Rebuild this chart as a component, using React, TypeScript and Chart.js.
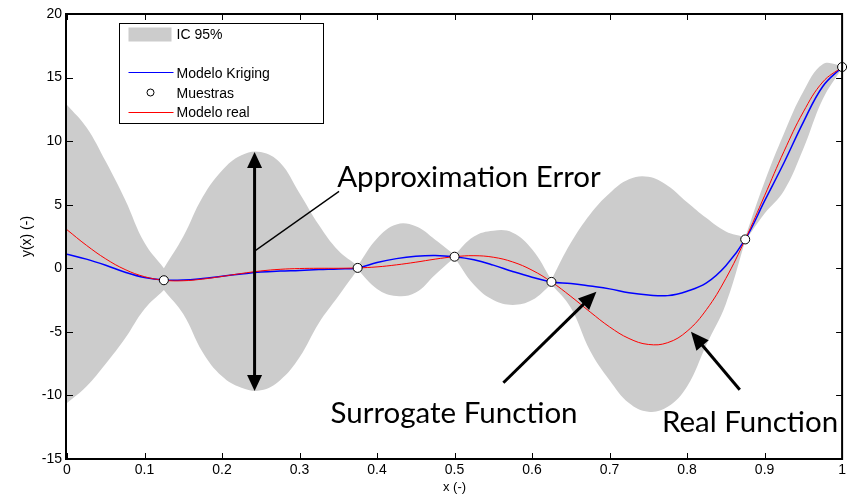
import React, { useEffect, useRef } from "react";
import { Chart, registerables } from "chart.js";

Chart.register(...registerables);

// ---------- data ----------
const xGrid = [
  0, 0.025, 0.05, 0.075, 0.1, 0.125, 0.15, 0.175, 0.2, 0.225,
  0.25, 0.275, 0.3, 0.325, 0.35, 0.375, 0.4, 0.425, 0.45, 0.475,
  0.5, 0.525, 0.55, 0.575, 0.6, 0.625, 0.65, 0.675, 0.7, 0.725,
  0.75, 0.775, 0.8, 0.825, 0.85, 0.875, 0.9, 0.925, 0.95, 0.975, 1,
];

const realModel = [
  3.03, 1.81, 0.74, -0.1, -0.66, -0.94, -0.98, -0.85, -0.64, -0.41,
  -0.21, -0.08, -0.02, 0.0, 0.0, 0.03, 0.11, 0.27, 0.48, 0.72,
  0.91, 0.99, 0.87, 0.5, -0.15, -1.07, -2.21, -3.44, -4.61, -5.52,
  -5.99, -5.85, -4.95, -3.25, -0.8, 2.27, 5.71, 9.19, 12.3, 14.65, 15.83,
];

const krigingModel = [
  1.1, 0.72, 0.24, -0.31, -0.73, -0.93, -0.93, -0.8, -0.62, -0.45,
  -0.3, -0.22, -0.17, -0.1, -0.05, 0.03, 0.45, 0.76, 0.95, 1.01,
  0.91, 0.67, 0.25, -0.25, -0.7, -1.07, -1.2, -1.4, -1.62, -1.92,
  -2.1, -2.15, -1.8, -1.15, 0.2, 2.27, 5.3, 8.3, 11.5, 14.3, 15.83,
];

// confidence band (sample locations listed twice so the band pinches sharply)
const bandX = [
  0, 0.025, 0.05, 0.075, 0.1, 0.125, 0.125, 0.15, 0.175, 0.2,
  0.225, 0.25, 0.275, 0.3, 0.325, 0.35, 0.375, 0.375, 0.4, 0.425,
  0.45, 0.475, 0.5, 0.5, 0.525, 0.55, 0.575, 0.6, 0.625, 0.625,
  0.65, 0.675, 0.7, 0.725, 0.75, 0.775, 0.8, 0.825, 0.85, 0.875,
  0.875, 0.9, 0.925, 0.95, 0.975, 1,
];

const ciUpper = [
  12.85, 11.1, 8.4, 5.4, 2.0, 0.0, 0.0, 2.5, 5.6, 7.7,
  8.9, 9.15, 8.3, 5.9, 3.4, 1.4, 0.2, 0.2, 2.35, 3.45,
  3.3, 2.25, 1.05, 1.05, 2.5, 2.96, 2.8, 1.5, -0.9, -0.9,
  2.0, 4.25, 5.9, 7.0, 7.2, 6.5, 5.2, 3.95, 2.9, 2.45,
  2.45, 6.8, 10.6, 13.9, 16.05, 15.95,
];

const ciLower = [
  -10.6, -9.3, -7.5, -5.5, -3.2, -1.7, -1.7, -3.6, -6.6, -8.5,
  -9.4, -9.6, -8.8, -7.0, -4.3, -2.2, -0.1, -0.1, -1.62, -2.18,
  -1.9, -0.5, 0.85, 0.85, -1.3, -2.5, -2.88, -2.5, -1.25, -1.25,
  -3.1, -6.5, -8.8, -10.6, -11.28, -10.9, -9.3, -6.0, -2.8, 2.15,
  2.15, 4.3, 6.1, 9.4, 13.3, 15.75,
];

const sampleX = [0.125, 0.375, 0.5, 0.625, 0.875, 1];
const sampleY = [-0.94, 0.03, 0.91, -1.07, 2.27, 15.83];

const xTicks = [0, 0.1, 0.2, 0.3, 0.4, 0.5, 0.6, 0.7, 0.8, 0.9, 1];
const xTickLabels = ["0", "0.1", "0.2", "0.3", "0.4", "0.5", "0.6", "0.7", "0.8", "0.9", "1"];
const yTicks = [-15, -10, -5, 0, 5, 10, 15, 20];
const yTickLabels = ["-15", "-10", "-5", "0", "5", "10", "15", "20"];

const legendLabels = ["IC 95%", "Modelo Kriging", "Muestras", "Modelo real"];

// annotations in data units
const annotationTexts = [
  { text: "Approximation Error", x: 0.3486, y: 6.37 },
  { text: "Surrogate Function", x: 0.34, y: -12.2 },
  { text: "Real Function", x: 0.7675, y: -12.86 },
];
const errorArrow = { x: 0.242, yTop: 9.15, yBottom: -9.65 };
const leaderLine = { x1: 0.242, y1: 1.35, x2: 0.351, y2: 6.05 };
const pointerArrows = [
  { x1: 0.563, y1: -9.0, x2: 0.683, y2: -1.84 },
  { x1: 0.868, y1: -9.55, x2: 0.805, y2: -4.99 },
];

// ---------- styles ----------
const FONT = '"Liberation Sans", Arial, sans-serif';
const BAND = "#cccccc";
const BLUE = "#0000ff";
const RED = "#ff0000";

function toXY(xs: number[], ys: number[]) {
  return xs.map((x, i) => ({ x, y: ys[i] }));
}

function drawHead(ctx: CanvasRenderingContext2D, tx: number, ty: number, ang: number, len: number, half: number) {
  const bx = tx - Math.cos(ang) * len;
  const by = ty - Math.sin(ang) * len;
  const nx = -Math.sin(ang) * half;
  const ny = Math.cos(ang) * half;
  ctx.beginPath();
  ctx.moveTo(tx, ty);
  ctx.lineTo(bx + nx, by + ny);
  ctx.lineTo(bx - nx, by - ny);
  ctx.closePath();
  ctx.fill();
}

const framePlugin = {
  id: "frameTicks",
  afterDatasetsDraw(chart: any) {
    const { ctx, chartArea } = chart;
    const { left, top, right, bottom } = chartArea;
    const xs = chart.scales.x;
    const ys = chart.scales.y;
    ctx.save();
    // annotations
    ctx.fillStyle = "#000";
    ctx.strokeStyle = "#000";
    ctx.font = '29.5px Lato, "Open Sans", sans-serif';
    ctx.textBaseline = "alphabetic";
    ctx.textAlign = "left";
    for (const t of annotationTexts) {
      ctx.fillText(t.text, xs.getPixelForValue(t.x), ys.getPixelForValue(t.y));
    }
    // leader line
    ctx.lineWidth = 1.3;
    ctx.beginPath();
    ctx.moveTo(xs.getPixelForValue(leaderLine.x1), ys.getPixelForValue(leaderLine.y1));
    ctx.lineTo(xs.getPixelForValue(leaderLine.x2), ys.getPixelForValue(leaderLine.y2));
    ctx.stroke();
    // double arrow
    const ax = xs.getPixelForValue(errorArrow.x);
    const ayT = ys.getPixelForValue(errorArrow.yTop);
    const ayB = ys.getPixelForValue(errorArrow.yBottom);
    const headLen = 16;
    const headHalf = 7.5;
    ctx.lineWidth = 3;
    ctx.beginPath();
    ctx.moveTo(ax, ayT + headLen - 1);
    ctx.lineTo(ax, ayB - headLen + 1);
    ctx.stroke();
    drawHead(ctx, ax, ayT, -Math.PI / 2, headLen, headHalf);
    drawHead(ctx, ax, ayB, Math.PI / 2, headLen, headHalf);
    // pointer arrows
    for (const a of pointerArrows) {
      const x1 = xs.getPixelForValue(a.x1);
      const y1 = ys.getPixelForValue(a.y1);
      const x2 = xs.getPixelForValue(a.x2);
      const y2 = ys.getPixelForValue(a.y2);
      const ang = Math.atan2(y2 - y1, x2 - x1);
      ctx.lineWidth = 3;
      ctx.beginPath();
      ctx.moveTo(x1, y1);
      ctx.lineTo(x2 - Math.cos(ang) * (headLen - 1), y2 - Math.sin(ang) * (headLen - 1));
      ctx.stroke();
      drawHead(ctx, x2, y2, ang, headLen + 2, headHalf + 0.5);
    }
    // inward ticks
    const tl = 6;
    ctx.lineWidth = 1;
    ctx.beginPath();
    for (const v of xTicks) {
      const px = Math.round(xs.getPixelForValue(v)) + 0.5;
      ctx.moveTo(px, bottom);
      ctx.lineTo(px, bottom - tl);
      ctx.moveTo(px, top);
      ctx.lineTo(px, top + tl);
    }
    for (const v of yTicks) {
      const py = Math.round(ys.getPixelForValue(v)) + 0.5;
      ctx.moveTo(left, py);
      ctx.lineTo(left + tl, py);
      ctx.moveTo(right, py);
      ctx.lineTo(right - tl, py);
    }
    ctx.stroke();
    // frame
    ctx.lineWidth = 2;
    ctx.strokeRect(left - 1, top, right - left + 1, bottom - top);
    ctx.restore();
  },
  afterDraw(chart: any) {
    const { ctx, chartArea } = chart;
    const bx = Math.round(chartArea.left + 52) + 0.5;
    const by = Math.round(chartArea.top + 9) + 0.5;
    const bw = 204;
    const bh = 100;
    ctx.save();
    ctx.fillStyle = "#fff";
    ctx.fillRect(bx, by, bw, bh);
    ctx.strokeStyle = "#000";
    ctx.lineWidth = 1;
    ctx.strokeRect(bx, by, bw, bh);
    ctx.font = "14px " + FONT;
    ctx.textBaseline = "middle";
    ctx.textAlign = "left";
    const tx = bx + 57;
    // IC band swatch
    ctx.fillStyle = BAND;
    ctx.fillRect(bx + 9, by + 4, 43, 14);
    ctx.fillStyle = "#000";
    ctx.fillText(legendLabels[0], tx, by + 12);
    // kriging
    ctx.strokeStyle = BLUE;
    ctx.beginPath();
    ctx.moveTo(bx + 9, by + 49);
    ctx.lineTo(bx + 54, by + 49);
    ctx.stroke();
    ctx.fillText(legendLabels[1], tx, by + 51);
    // samples
    ctx.strokeStyle = "#000";
    ctx.fillStyle = "#fff";
    ctx.beginPath();
    ctx.arc(bx + 31, by + 69, 3.5, 0, Math.PI * 2);
    ctx.fill();
    ctx.stroke();
    ctx.fillStyle = "#000";
    ctx.fillText(legendLabels[2], tx, by + 70.5);
    // real
    ctx.strokeStyle = RED;
    ctx.beginPath();
    ctx.moveTo(bx + 9, by + 89);
    ctx.lineTo(bx + 54, by + 89);
    ctx.stroke();
    ctx.fillText(legendLabels[3], tx, by + 89.5);
    ctx.restore();
  },
};

export default function App() {
  const ref = useRef<HTMLCanvasElement>(null);

  useEffect(() => {
    const canvas = ref.current;
    if (!canvas) return;
    Chart.defaults.font.family = FONT;
    Chart.defaults.color = "#000";
    const chart = new Chart(canvas, {
      type: "line",
      data: {
        datasets: [
          {
            label: legendLabels[0],
            data: toXY(bandX, ciUpper),
            fill: "+1",
            backgroundColor: BAND,
            borderColor: "rgba(0,0,0,0)",
            borderWidth: 1,
            pointRadius: 0,
            tension: 0.4,
            order: 4,
          },
          {
            label: "lower",
            data: toXY(bandX, ciLower),
            fill: false,
            borderColor: "rgba(0,0,0,0)",
            borderWidth: 1,
            pointRadius: 0,
            tension: 0.4,
            order: 5,
          },
          {
            label: legendLabels[1],
            data: toXY(xGrid, krigingModel),
            borderColor: BLUE,
            borderWidth: 1.5,
            pointRadius: 0,
            tension: 0.4,
            fill: false,
            order: 3,
          },
          {
            label: legendLabels[3],
            data: toXY(xGrid, realModel),
            borderColor: RED,
            borderWidth: 1,
            pointRadius: 0,
            tension: 0.4,
            fill: false,
            order: 2,
          },
          {
            label: legendLabels[2],
            data: toXY(sampleX, sampleY),
            showLine: false,
            pointRadius: 4.5,
            pointBackgroundColor: "#fff",
            pointBorderColor: "#000",
            pointBorderWidth: 1,
            fill: false,
            clip: false,
            order: 1,
          },
        ],
      } as any,
      options: {
        responsive: false,
        animation: false,
        events: [],
        layout: { padding: { top: 14, right: 4, left: 0, bottom: 0 } },
        plugins: {
          legend: { display: false },
          tooltip: { enabled: false },
        },
        scales: {
          x: {
            type: "linear",
            min: 0,
            max: 1,
            afterFit: (s: any) => {
              s.height = 35;
            },
            afterBuildTicks: (s: any) => {
              s.ticks = xTicks.map((v) => ({ value: v }));
            },
            grid: { display: false, drawTicks: false },
            border: { display: false },
            ticks: {
              color: "#000",
              font: { family: FONT, size: 14 },
              padding: 3,
              maxRotation: 0,
              autoSkip: false,
              callback: (_v: any, i: number) => xTickLabels[i],
            },
            title: {
              display: true,
              text: "x (-)",
              color: "#000",
              font: { family: FONT, size: 13, lineHeight: 1 },
              padding: { top: 0, bottom: 0 },
            },
          },
          y: {
            type: "linear",
            min: -15,
            max: 20,
            afterFit: (s: any) => {
              s.width = 67;
            },
            afterBuildTicks: (s: any) => {
              s.ticks = yTicks.map((v) => ({ value: v }));
            },
            grid: { display: false, drawTicks: false },
            border: { display: false },
            ticks: {
              color: "#000",
              font: { family: FONT, size: 14 },
              padding: 5,
              autoSkip: false,
              callback: (_v: any, i: number) => yTickLabels[i],
            },
            title: {
              display: true,
              text: "y(x) (-)",
              color: "#000",
              font: { family: FONT, size: 14, lineHeight: 1 },
              padding: { top: 20, bottom: 0 },
            },
          },
        },
      } as any,
      plugins: [framePlugin],
    });
    return () => chart.destroy();
  }, []);

  return (
    <div style={{ position: "absolute", left: 0, top: 0, width: 849, height: 494, background: "#fff" }}>
      <canvas ref={ref} width={849} height={494} style={{ display: "block", width: 849, height: 494 }} />
    </div>
  );
}
